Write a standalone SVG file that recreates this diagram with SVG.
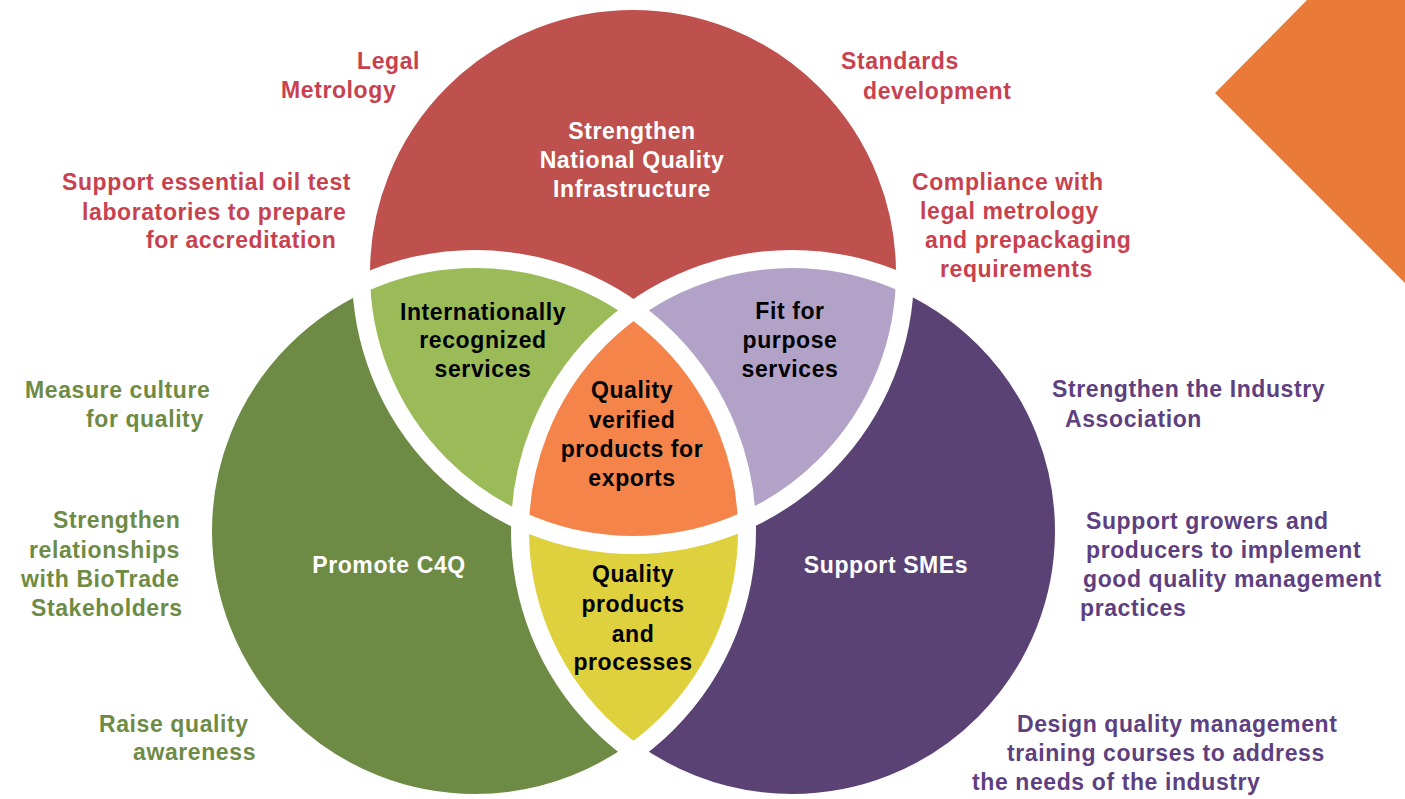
<svg xmlns="http://www.w3.org/2000/svg" width="1405" height="799" viewBox="0 0 1405 799">
<style>
text{font-family:"Liberation Sans",Arial,Helvetica,sans-serif;font-weight:bold;font-size:23px;letter-spacing:0.6px}
.red{fill:#C8414F}
.grn{fill:#6E8B45}
.pur{fill:#5E3F7F}
.blk{fill:#000000;text-anchor:middle}
.wht{fill:#FFFFFF;text-anchor:middle}
.ring{fill:none;stroke:#FFFFFF;stroke-width:18}
</style>
<defs>
<clipPath id="clipR"><circle cx="633" cy="273" r="272"/></clipPath>
<clipPath id="clipG"><circle cx="475" cy="531" r="272"/></clipPath>
</defs>
<rect width="1405" height="799" fill="#FFFFFF"/>
<polygon id="corner" points="1307,0 1405,0 1405,283 1215,93" fill="#E97A37"/>
<g id="venn">
<g id="circle-nqi"><circle cx="633" cy="273" r="272" fill="#BE504E"/></g>
<g id="circle-c4q"><circle cx="475" cy="531" r="272" fill="#6E8B46"/></g>
<g id="circle-smes"><circle cx="792" cy="531" r="272" fill="#5B4275"/></g>
<g id="overlap-intl"><circle cx="475" cy="531" r="272" fill="#9BBB59" clip-path="url(#clipR)"/></g>
<g id="overlap-fit"><circle cx="792" cy="531" r="272" fill="#B3A2C7" clip-path="url(#clipR)"/></g>
<g id="overlap-products"><circle cx="792" cy="531" r="272" fill="#DFD03D" clip-path="url(#clipG)"/></g>
<g id="overlap-center" clip-path="url(#clipR)"><circle cx="792" cy="531" r="272" fill="#F4844A" clip-path="url(#clipG)"/></g>
<g id="rings">
<circle class="ring" cx="633" cy="273" r="272"/>
<circle class="ring" cx="475" cy="531" r="272"/>
<circle class="ring" cx="792" cy="531" r="272"/>
</g>
</g>
<g id="label-nqi">
<text class="wht" x="632" y="139">Strengthen</text>
<text class="wht" x="632" y="168">National Quality</text>
<text class="wht" x="632" y="197">Infrastructure</text>
</g>
<g id="label-c4q"><text class="wht" x="389" y="573">Promote C4Q</text></g>
<g id="label-smes"><text class="wht" x="886" y="573">Support SMEs</text></g>
<g id="label-intl">
<text class="blk" x="483" y="320">Internationally</text>
<text class="blk" x="483" y="348">recognized</text>
<text class="blk" x="483" y="377">services</text>
</g>
<g id="label-fit">
<text class="blk" x="790" y="319">Fit for</text>
<text class="blk" x="790" y="348">purpose</text>
<text class="blk" x="790" y="377">services</text>
</g>
<g id="label-center">
<text class="blk" x="632" y="398">Quality</text>
<text class="blk" x="632" y="428">verified</text>
<text class="blk" x="632" y="457">products for</text>
<text class="blk" x="632" y="486">exports</text>
</g>
<g id="label-products">
<text class="blk" x="633" y="582">Quality</text>
<text class="blk" x="633" y="612">products</text>
<text class="blk" x="633" y="642">and</text>
<text class="blk" x="633" y="670">processes</text>
</g>
<g id="notes-red">
<text class="red" x="357" y="69">Legal</text>
<text class="red" x="281" y="98">Metrology</text>
<text class="red" x="62" y="190">Support essential oil test</text>
<text class="red" x="82" y="220">laboratories to prepare</text>
<text class="red" x="146" y="248">for accreditation</text>
<text class="red" x="841" y="69">Standards</text>
<text class="red" x="863" y="99">development</text>
<text class="red" x="912" y="190">Compliance with</text>
<text class="red" x="920" y="219">legal metrology</text>
<text class="red" x="925" y="248">and prepackaging</text>
<text class="red" x="940" y="277">requirements</text>
</g>
<g id="notes-green">
<text class="grn" x="25" y="398">Measure culture</text>
<text class="grn" x="86" y="427">for quality</text>
<text class="grn" x="53" y="528">Strengthen</text>
<text class="grn" x="29" y="558">relationships</text>
<text class="grn" x="21" y="587">with BioTrade</text>
<text class="grn" x="31" y="616">Stakeholders</text>
<text class="grn" x="99" y="732">Raise quality</text>
<text class="grn" x="133" y="760">awareness</text>
</g>
<g id="notes-purple">
<text class="pur" x="1052" y="397">Strengthen the Industry</text>
<text class="pur" x="1065" y="427">Association</text>
<text class="pur" x="1086" y="529">Support growers and</text>
<text class="pur" x="1086" y="558">producers to implement</text>
<text class="pur" x="1083" y="587">good quality management</text>
<text class="pur" x="1080" y="616">practices</text>
<text class="pur" x="1017" y="732">Design quality management</text>
<text class="pur" x="1007" y="761">training courses to address</text>
<text class="pur" x="972" y="790">the needs of the industry</text>
</g>
</svg>
